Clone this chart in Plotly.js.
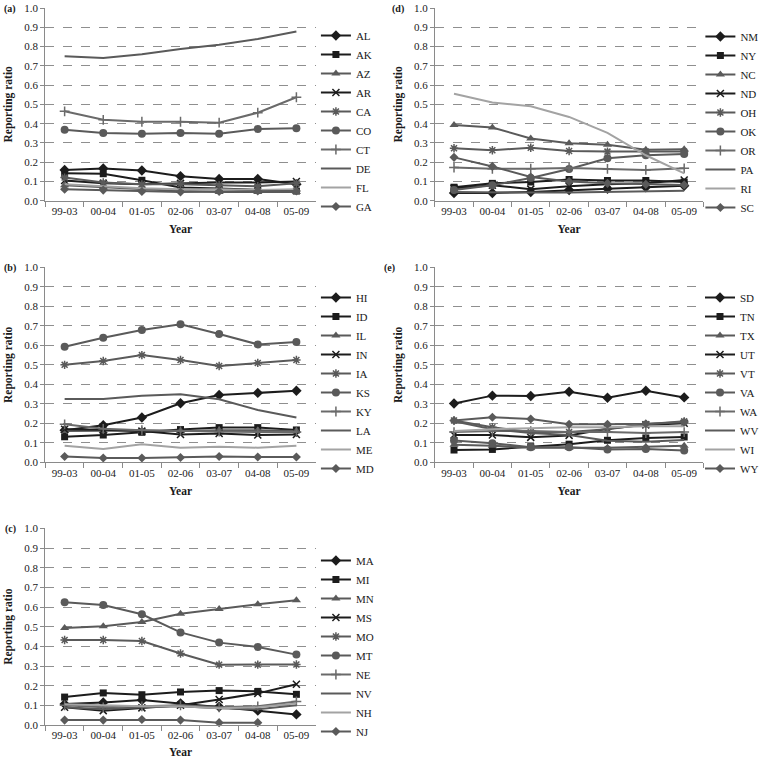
<!DOCTYPE html>
<html>
<head>
<meta charset="utf-8">
<script src="https://cdn.plot.ly/plotly-3.0.1.min.js"></script>
<style>
  html, body { margin: 0; padding: 0; background: #fff; }
  #chart { width: 764px; height: 758px; }
</style>
</head>
<body>
<div id="chart"></div>
<script>
// 기간 (x축 카테고리)
const years = ['99-03', '00-04', '01-05', '02-06', '03-07', '04-08', '05-09'];

// (a)
const statesA = ['AL', 'AK', 'AZ', 'AR', 'CA', 'CO', 'CT', 'DE', 'FL', 'GA'];
const ratiosA = [
  [0.16, 0.167, 0.157, 0.127, 0.113, 0.113, 0.085],
  [0.143, 0.14, 0.106, 0.068, 0.063, 0.055, 0.05],
  [0.08, 0.07, 0.06, 0.05, 0.045, 0.045, 0.045],
  [0.105, 0.09, 0.085, 0.09, 0.095, 0.095, 0.1],
  [0.12, 0.095, 0.085, 0.085, 0.08, 0.075, 0.09],
  [0.369, 0.352, 0.348, 0.352, 0.348, 0.372, 0.376],
  [0.464, 0.42, 0.41, 0.41, 0.405, 0.457, 0.537],
  [0.75, 0.741, 0.76, 0.788, 0.81, 0.84, 0.879],
  [0.085, 0.075, 0.065, 0.06, 0.06, 0.055, 0.06],
  [0.06, 0.055, 0.048, 0.045, 0.048, 0.05, 0.05]
];

// (b)
const statesB = ['HI', 'ID', 'IL', 'IN', 'IA', 'KS', 'KY', 'LA', 'ME', 'MD'];
const ratiosB = [
  [0.165, 0.19, 0.23, 0.303, 0.345, 0.356, 0.367],
  [0.131, 0.14, 0.154, 0.168, 0.178, 0.178, 0.166],
  [0.16, 0.162, 0.163, 0.16, 0.165, 0.165, 0.16],
  [0.17, 0.167, 0.16, 0.143, 0.148, 0.14, 0.143],
  [0.5, 0.52, 0.55, 0.525, 0.494, 0.51, 0.525],
  [0.593, 0.639, 0.679, 0.708, 0.658, 0.605, 0.617],
  [0.195, 0.172, 0.165, 0.16, 0.158, 0.155, 0.155],
  [0.325, 0.325, 0.342, 0.349, 0.323, 0.268, 0.23],
  [0.085, 0.068, 0.093, 0.075, 0.08, 0.075, 0.085],
  [0.03, 0.022, 0.022, 0.025, 0.03, 0.027, 0.027]
];

// (c)
const statesC = ['MA', 'MI', 'MN', 'MS', 'MO', 'MT', 'NE', 'NV', 'NH', 'NJ'];
const ratiosC = [
  [0.107, 0.115, 0.127, 0.11, 0.093, 0.073, 0.054],
  [0.142, 0.163, 0.154, 0.168, 0.175, 0.171, 0.156],
  [0.493, 0.502, 0.524, 0.566, 0.59, 0.614, 0.634],
  [0.09, 0.073, 0.087, 0.1, 0.13, 0.161, 0.207],
  [0.432, 0.432, 0.427, 0.364, 0.307, 0.307, 0.308],
  [0.624, 0.61, 0.563, 0.471, 0.419, 0.397, 0.358],
  [0.1, 0.09, 0.095, 0.1, 0.09, 0.095, 0.12],
  [0.09, 0.08, 0.09, 0.095, 0.085, 0.08, 0.1],
  [0.105, 0.1, 0.095, 0.095, 0.085, 0.09, 0.11],
  [0.025, 0.025, 0.028, 0.025, 0.012, 0.012, null]
];

// (d)
const statesD = ['NM', 'NY', 'NC', 'ND', 'OH', 'OK', 'OR', 'PA', 'RI', 'SC'];
const ratiosD = [
  [0.04, 0.04, 0.045, 0.055, 0.062, 0.07, 0.078],
  [0.07, 0.09, 0.097, 0.11, 0.105, 0.105, 0.097],
  [0.393, 0.38, 0.323, 0.298, 0.29, 0.265, 0.267],
  [0.065, 0.08, 0.06, 0.075, 0.085, 0.09, 0.107],
  [0.272, 0.262, 0.275, 0.258, 0.255, 0.255, 0.255],
  [0.055, 0.08, 0.118, 0.165, 0.22, 0.236, 0.243],
  [0.172, 0.166, 0.166, 0.17, 0.165, 0.16, 0.168],
  [0.045, 0.042, 0.042, 0.043, 0.045, 0.047, 0.052],
  [0.555, 0.51, 0.49, 0.435, 0.352, 0.236, 0.142],
  [0.225, 0.178, 0.123, 0.1, 0.09, 0.085, 0.082]
];

// (e)
const statesE = ['SD', 'TN', 'TX', 'UT', 'VT', 'VA', 'WA', 'WV', 'WI', 'WY'];
const ratiosE = [
  [0.302, 0.342, 0.34, 0.362, 0.331, 0.367, 0.333],
  [0.063, 0.066, 0.08, 0.093, 0.113, 0.125, 0.13],
  [0.09, 0.085, 0.075, 0.075, 0.075, 0.08, 0.085],
  [0.14, 0.14, 0.128, 0.138, 0.172, 0.192, 0.2],
  [0.215, 0.18, 0.155, 0.155, 0.17, 0.195, 0.21],
  [0.112, 0.098, 0.077, 0.077, 0.066, 0.068, 0.06],
  [0.155, 0.16, 0.16, 0.155, 0.155, 0.15, 0.155],
  [0.21, 0.17, 0.15, 0.14, 0.11, 0.105, 0.115],
  [0.16, 0.17, 0.175, 0.18, 0.18, 0.185, 0.185],
  [0.214, 0.231, 0.222, 0.195, 0.195, 0.198, 0.206]
];

const FONT = "'Liberation Serif', 'Times New Roman', serif";
const W = 764, H = 758;

// 엑셀 회색조 계열 스타일 (범례 순서대로 반복)
const SERIES_STYLES = [
  { color: '#1c1c1c', symbol: 'diamond', size: 8 },
  { color: '#1c1c1c', symbol: 'square', size: 7 },
  { color: '#5a5a5a', symbol: 'triangle-up', size: 8 },
  { color: '#1c1c1c', symbol: 'x-thin-open', size: 7 },
  { color: '#5a5a5a', symbol: 'asterisk-open', size: 7 },
  { color: '#5a5a5a', symbol: 'circle', size: 8 },
  { color: '#6a6a6a', symbol: 'cross-thin-open', size: 7 },
  { color: '#5a5a5a', symbol: null },
  { color: '#a3a3a3', symbol: null },
  { color: '#5a5a5a', symbol: 'diamond', size: 7 }
];

// 패널 위치 (픽셀 기준) - 맨 위 패널은 1.0 눈금이 잘리지 않도록 8px 아래에서 시작
const panels = [
  { tag: '(a)', states: statesA, ratios: ratiosA, n: 1, left: 45.6, right: 317.8, top: 8, bottom: 200.7, legX: 318, legY: 121, tagX: 2 },
  { tag: '(b)', states: statesB, ratios: ratiosB, n: 2, left: 45.6, right: 317.8, top: 267.3, bottom: 462.3, legX: 318, legY: 383, tagX: 2 },
  { tag: '(c)', states: statesC, ratios: ratiosC, n: 3, left: 45.6, right: 317.8, top: 528.3, bottom: 725, legX: 318, legY: 646, tagX: 3 },
  { tag: '(d)', states: statesD, ratios: ratiosD, n: 4, left: 437.7, right: 708, top: 8, bottom: 200.7, legX: 705, legY: 122, tagX: 393 },
  { tag: '(e)', states: statesE, ratios: ratiosE, n: 5, left: 437.7, right: 708, top: 267.3, bottom: 462.3, legX: 705, legY: 383, tagX: 385 }
];

const makeTrace = (name, values, idx, p) => {
  const st = SERIES_STYLES[idx];
  const suffix = p.n === 1 ? '' : p.n;
  const trace = {
    x: years,
    y: values,
    name: name,
    type: 'scatter',
    mode: st.symbol ? 'lines+markers' : 'lines',
    xaxis: 'x' + suffix,
    yaxis: 'y' + suffix,
    legend: 'legend' + suffix,
    connectgaps: false,
    cliponaxis: false,
    line: { color: st.color, width: 2 },
    hovertemplate: name + ': %{y:.3f}<extra></extra>'
  };
  if (st.symbol) {
    trace.marker = {
      symbol: st.symbol,
      size: st.size,
      color: st.color,
      line: { color: st.color, width: st.symbol.indexOf('open') >= 0 ? 1.5 : 0 }
    };
  }
  return trace;
};

const data = [];
const layout = {
  width: W,
  height: H,
  margin: { l: 0, r: 0, t: 0, b: 0 },
  paper_bgcolor: '#ffffff',
  plot_bgcolor: '#ffffff',
  font: { family: FONT, size: 11, color: '#1a1a1a' },
  showlegend: true,
  annotations: []
};

panels.forEach(p => {
  p.states.forEach((s, i) => data.push(makeTrace(s, p.ratios[i], i, p)));

  const suffix = p.n === 1 ? '' : p.n;
  layout['xaxis' + suffix] = {
    domain: [p.left / W, p.right / W],
    anchor: 'y' + suffix,
    type: 'category',
    range: [-0.5, 6.5],
    tickson: 'boundaries',
    ticks: 'outside',
    ticklen: 5,
    tickcolor: '#8a8a8a',
    showline: true,
    linecolor: '#8a8a8a',
    linewidth: 1,
    showgrid: false,
    zeroline: false,
    tickfont: { family: FONT, size: 11, color: '#1a1a1a' },
    title: { text: '<b>Year</b>', font: { family: FONT, size: 11.5 }, standoff: 9 },
    fixedrange: true
  };
  layout['yaxis' + suffix] = {
    domain: [1 - p.bottom / H, 1 - p.top / H],
    anchor: 'x' + suffix,
    range: [0, 1.0005],
    dtick: 0.1,
    tick0: 0,
    tickformat: '.1f',
    ticks: 'outside',
    ticklen: 4,
    tickcolor: '#8a8a8a',
    ticklabeloverflow: 'allow',
    showline: true,
    linecolor: '#8a8a8a',
    linewidth: 1,
    showgrid: true,
    gridcolor: '#8f8f8f',
    griddash: 'dash',
    gridwidth: 1,
    zeroline: false,
    tickfont: { family: FONT, size: 11, color: '#1a1a1a' },
    title: { text: '<b>Reporting ratio</b>', font: { family: FONT, size: 11.5 } },
    fixedrange: true
  };
  layout['legend' + suffix] = {
    x: p.legX / W,
    xanchor: 'left',
    y: 1 - p.legY / H,
    yanchor: 'middle',
    bgcolor: 'rgba(0,0,0,0)',
    borderwidth: 0,
    font: { family: FONT, size: 11, color: '#1a1a1a' },
    traceorder: 'normal'
  };
  layout.annotations.push({
    text: '<b>' + p.tag + '</b>',
    xref: 'paper',
    yref: 'paper',
    x: p.tagX / W,
    y: 1 - (p.top + 0.5) / H,
    xanchor: 'left',
    yanchor: 'middle',
    showarrow: false,
    font: { family: FONT, size: 10, color: '#1a1a1a' }
  });
});

Plotly.newPlot('chart', data, layout, { displayModeBar: false, staticPlot: true });
</script>
</body>
</html>
